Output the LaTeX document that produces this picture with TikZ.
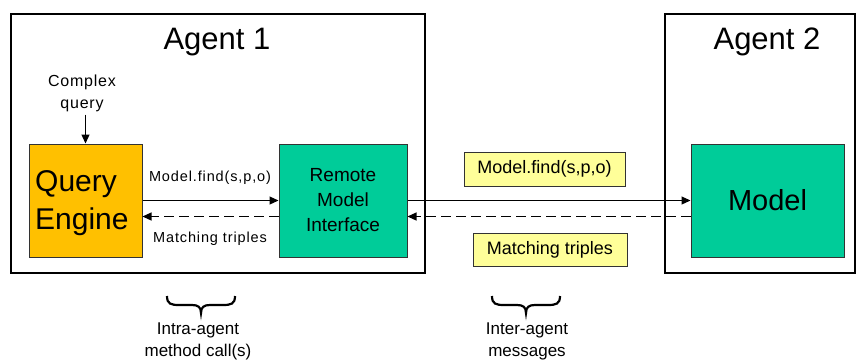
\documentclass[tikz,border=0pt]{standalone}
\usepackage{fontspec}
\setmainfont{Liberation Sans}
\usetikzlibrary{arrows.meta}
\definecolor{qeyellow}{HTML}{FFC000}
\definecolor{teal2}{HTML}{00CC99}
\definecolor{labyellow}{HTML}{FFFF99}
\tikzset{
  agentbox/.style={draw=black, line width=2pt, rectangle, inner sep=0pt},
  compbox/.style={draw=black!80, line width=1pt, rectangle, inner sep=0pt, align=center},
  labbox/.style={draw=black!80, line width=0.8pt, fill=labyellow, rectangle, inner sep=0pt},
  solidarr/.style={line width=1.2pt, -{Triangle[length=9pt,width=8pt]}},
  dasharr/.style={line width=1.2pt, dash pattern=on 10pt off 5pt, -{Triangle[length=9pt,width=8pt]}},
  bracestyle/.style={line width=2.2pt},
  smalltxt/.style={font=\fontsize{14.5}{17}\selectfont\addfontfeature{LetterSpace=6}, inner sep=0pt},
}
\begin{document}
\begin{tikzpicture}[x=1pt,y=-1pt]
\useasboundingbox (0,0) rectangle (857,360);
% agents
\node[agentbox, minimum width=414pt, minimum height=259pt] (ag1) at (218,143.5) {};
\node[agentbox, minimum width=190pt, minimum height=259pt] (ag2) at (760,143.5) {};
\node[font=\fontsize{31}{36}\selectfont, inner sep=0pt] (t1) at (217,42) {Agent 1};
\node[font=\fontsize{31}{36}\selectfont, inner sep=0pt] (t2) at (767,42) {Agent 2};
% components
\node[compbox, fill=qeyellow, minimum width=113pt, minimum height=113pt] (qe) at (85.5,200.5) {};
\node[align=left, inner sep=0pt, anchor=west, font=\fontsize{30}{38}\selectfont] (qet) at (35,203) {Query\\Engine};
\node[compbox, fill=teal2, minimum width=128pt, minimum height=113pt, font=\fontsize{19}{25}\selectfont] (rmi) at (343,200.5) {Remote\\Model\\Interface};
\node[compbox, fill=teal2, minimum width=153pt, minimum height=113pt, font=\fontsize{29}{34}\selectfont] (mod) at (767.5,200.5) {Model};
% complex query
\node[font=\fontsize{16}{22}\selectfont\addfontfeature{LetterSpace=5}, align=center, inner sep=0pt] (cq) at (82,93) {Complex\\query};
\draw[solidarr] (qe.north |- cq.south) ++(0,3) -- (qe.north);
% intra arrows
\draw[solidarr] (qe.east) -- (rmi.west);
\draw[dasharr] ([yshift=-16pt]rmi.west) -- ([yshift=-16pt]qe.east);
\node[smalltxt] (lf1) at (210,178) {Model.find(s,p,o)};
\node[smalltxt] (lm1) at (210,239) {Matching triples};
% inter arrows
\draw[solidarr] (rmi.east) -- (mod.west);
\draw[dasharr] ([yshift=-16pt]mod.west) -- ([yshift=-16pt]rmi.east);
\node[labbox, minimum width=161pt, minimum height=34pt, font=\fontsize{18}{20}\selectfont] (lf2) at (544.5,169) {Model.find(s,p,o)};
\node[labbox, minimum width=154pt, minimum height=33pt, font=\fontsize{18}{20}\selectfont] (lm2) at (550,249.5) {Matching triples};
% braces
\draw[bracestyle] (167,296) .. controls (167,304) and (171,305) .. (179,305) -- (192,305) .. controls (198,305) and (201,307) .. (201,313) .. controls (201,307) and (204,305) .. (210,305) -- (223,305) .. controls (231,305) and (235,304) .. (235,296);
\draw[bracestyle] (492,296) .. controls (492,304) and (496,305) .. (504,305) -- (517,305) .. controls (523,305) and (526,307) .. (526,313) .. controls (526,307) and (529,305) .. (535,305) -- (548,305) .. controls (556,305) and (560,304) .. (560,296);
\node[font=\fontsize{17}{22}\selectfont, align=center, inner sep=0pt] (b1) at (198,341) {Intra-agent\\method call(s)};
\node[font=\fontsize{17}{22}\selectfont, align=center, inner sep=0pt] (b2) at (527,341) {Inter-agent\\messages};
\end{tikzpicture}
\end{document}
